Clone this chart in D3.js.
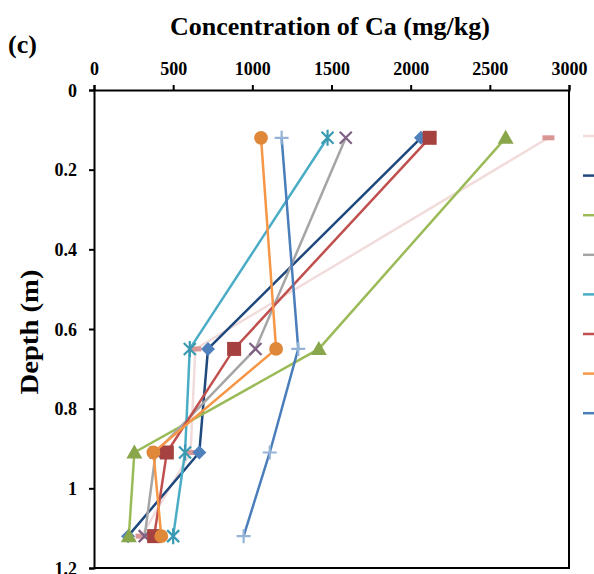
<!DOCTYPE html>
<html>
<head>
<meta charset="utf-8">
<script src="https://cdn.jsdelivr.net/npm/d3@7"></script>
<style>
  body { margin: 0; background: #fff; }
  svg { display: block; }
  .axis text { font-family: "Liberation Serif", "Times New Roman", serif; font-weight: bold; font-size: 18px; fill: #000; }
  .axis path, .axis line { stroke: #000; stroke-width: 2px; }
</style>
</head>
<body>
<div id="chart"></div>
<script>

// depths of the samples (m)
var depths = [0.12, 0.65, 0.91, 1.12];

// series names (legend text is outside the visible area)
var seriesNames = ["S1", "S2", "S3", "S4", "S5", "S6", "S7", "S8"];

// Ca concentration (mg/kg) per series, one value per depth
var s1 = [2870, 640, 610, 300];
var s2 = [2065, 720, 665, 215];
var s3 = [2600, 1420, 255, 220];
var s4 = [1590, 1020, 390, 320];
var s5 = [1475, 605, 575, 500];
var s6 = [2120, 885, 460, 380];
var s7 = [1055, 1150, 375, 425];
var s8 = [1185, 1290, 1110, 945];

var xTicks = [0, 500, 1000, 1500, 2000, 2500, 3000];
var yTicks = [0, 0.2, 0.4, 0.6, 0.8, 1, 1.2];

var allSeries = [s1, s2, s3, s4, s5, s6, s7, s8];

var styles = [
	{ line: "#f2dcdb", marker: "#d99694", shape: "dash" },
	{ line: "#1f497d", marker: "#4f81bd", shape: "diamond" },
	{ line: "#9bbb59", marker: "#8aa64a", shape: "triangle" },
	{ line: "#a5a5a5", marker: "#7f6084", shape: "x" },
	{ line: "#4bacc6", marker: "#3a9ab2", shape: "star" },
	{ line: "#c0504d", marker: "#a5413e", shape: "square" },
	{ line: "#f79646", marker: "#e0883a", shape: "circle" },
	{ line: "#4a7ebb", marker: "#95b3d7", shape: "plus" }
];

var width = 594, height = 574;
var margin = { top: 90, right: 25, bottom: 6, left: 94 };

var svg = d3.select("#chart").append("svg")
	.attr("width", width)
	.attr("height", height);

var x = d3.scaleLinear()
	.domain([0, 3000])
	.range([margin.left, width - margin.right]);

var y = d3.scaleLinear()
	.domain([0, 1.2])
	.range([margin.top, height - margin.bottom]);

// frame (right and bottom)
svg.append("path")
	.attr("d", "M" + x(0) + "," + y(1.2) + "H" + x(3000) + "V" + y(0))
	.attr("fill", "none")
	.attr("stroke", "#000")
	.attr("stroke-width", 2);

// axes
var xAxis = d3.axisTop(x)
	.tickValues(xTicks)
	.tickSize(5)
	.tickPadding(10)
	.tickFormat(d3.format("d"));

var yAxis = d3.axisLeft(y)
	.tickValues(yTicks)
	.tickSize(5)
	.tickPadding(12)
	.tickFormat(function (d) { return String(d); });

svg.append("g")
	.attr("class", "axis x-axis")
	.attr("transform", "translate(0," + y(0) + ")")
	.call(xAxis);

svg.append("g")
	.attr("class", "axis y-axis")
	.attr("transform", "translate(" + x(0) + ",0)")
	.call(yAxis);

svg.selectAll(".y-axis text").attr("dy", "0.35em");

// titles
svg.append("text")
	.attr("x", 330)
	.attr("y", 35)
	.attr("text-anchor", "middle")
	.style("font-family", "Liberation Serif, serif")
	.style("font-weight", "bold")
	.style("font-size", "26px")
	.text("Concentration of Ca (mg/kg)");

svg.append("text")
	.attr("x", 8)
	.attr("y", 53)
	.style("font-family", "Liberation Serif, serif")
	.style("font-weight", "bold")
	.style("font-size", "26px")
	.text("(c)");

svg.append("text")
	.attr("transform", "translate(38,332) rotate(-90)")
	.attr("text-anchor", "middle")
	.attr("textLength", 125)
	.attr("lengthAdjust", "spacingAndGlyphs")
	.style("font-family", "Liberation Serif, serif")
	.style("font-weight", "bold")
	.style("font-size", "26px")
	.text("Depth (m)");

// marker shapes
function markerPath(shape) {
	switch (shape) {
		case "dash": return "M-6,-2.5H6V2.5H-6Z";
		case "diamond": return "M0,-7L7,0L0,7L-7,0Z";
		case "triangle": return "M0,-8L8,6H-8Z";
		case "square": return "M-7,-7H7V7H-7Z";
		case "circle": return d3.symbol(d3.symbolCircle, 150)();
		case "x": return "M-6,-6L6,6M-6,6L6,-6";
		case "star": return "M-6,-6L6,6M-6,6L6,-6M0,-8V8";
		case "plus": return "M-7,0H7M0,-7V7";
	}
}

var line = d3.line()
	.x(function (d) { return x(d.v); })
	.y(function (d) { return y(d.depth); });

var seriesData = allSeries.map(function (vals, i) {
	return vals.map(function (v, j) { return { v: v, depth: depths[j], i: i }; });
});

var groups = svg.selectAll(".series")
	.data(seriesData)
	.enter().append("g")
	.attr("class", "series");

groups.append("path")
	.attr("d", line)
	.attr("fill", "none")
	.attr("stroke", function (d, i) { return styles[i].line; })
	.attr("stroke-width", 2.5);

groups.selectAll(".marker")
	.data(function (d) { return d; })
	.enter().append("path")
	.attr("class", "marker")
	.attr("transform", function (d) { return "translate(" + x(d.v) + "," + y(d.depth) + ")"; })
	.attr("d", function (d) { return markerPath(styles[d.i].shape); })
	.attr("fill", function (d) {
		var s = styles[d.i].shape;
		return (s === "x" || s === "star" || s === "plus") ? "none" : styles[d.i].marker;
	})
	.attr("stroke", function (d) {
		var s = styles[d.i].shape;
		return (s === "x" || s === "star" || s === "plus") ? styles[d.i].marker : "none";
	})
	.attr("stroke-width", 2.2);

// legend (cut off at the right edge of the picture)
var legend = svg.selectAll(".legend")
	.data(seriesNames)
	.enter().append("g")
	.attr("class", "legend")
	.attr("transform", function (d, i) { return "translate(583," + (136 + i * 39.6) + ")"; });

legend.append("line")
	.attr("x1", 0)
	.attr("x2", 30)
	.attr("stroke", function (d, i) { return styles[i].line; })
	.attr("stroke-width", 2.5);

</script>
</body>
</html>
